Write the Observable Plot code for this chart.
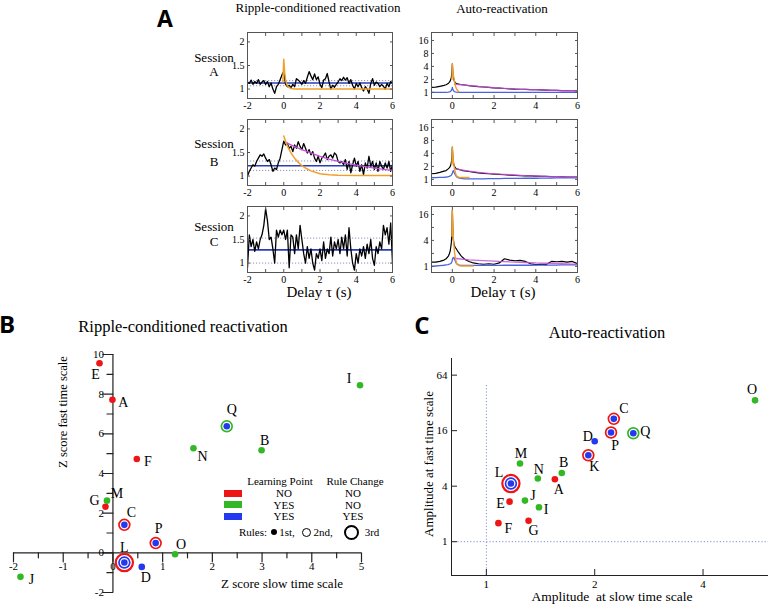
<!DOCTYPE html>
<html><head><meta charset="utf-8">
<script src="https://cdn.jsdelivr.net/npm/d3@7"></script>
<script src="https://cdn.jsdelivr.net/npm/@observablehq/plot@0.6"></script>
<style>
body{margin:0;background:#fff;}
#fig{position:relative;width:768px;height:604px;overflow:hidden;background:#fff;font-family:"Liberation Serif","DejaVu Serif",serif;color:#000;}
#fig svg{position:absolute;background:transparent;}
.lbl{position:absolute;white-space:pre;line-height:1;transform:translate(-50%,-50%);}
</style></head><body><div id="fig"></div>
<script>
// ---------- Panel A data ----------
// ripple-conditioned reactivation, sampled every 0.1 s from -2 to 6 s
const rippleA = [1.15,1.12,1.19,1.10,1.16,1.12,1.20,1.10,1.15,1.18,
 1.10,1.16,1.05,1.13,1.00,0.91,1.05,1.10,1.20,1.30,
 1.37,1.10,1.05,1.08,1.03,1.10,1.05,1.22,1.19,1.15,
 1.10,1.18,1.12,1.25,1.37,1.28,1.20,1.32,1.20,1.26,
 1.10,1.03,1.19,1.22,1.33,1.15,1.00,1.08,1.04,1.10,
 1.15,1.22,1.18,1.25,1.19,1.24,1.12,1.20,1.08,1.00,
 1.12,1.05,1.13,1.03,0.96,1.05,1.00,0.91,1.12,1.22,
 1.08,1.15,1.12,1.05,1.10,1.06,1.00,1.12,1.05,1.16,1.12];
const rippleB = [1.00,1.10,1.17,1.24,1.21,1.31,1.38,1.45,1.42,1.47,
 1.38,1.31,1.35,1.24,1.10,1.17,1.14,1.28,1.38,1.56,
 1.74,1.66,1.69,1.59,1.63,1.52,1.66,1.59,1.73,1.63,
 1.56,1.69,1.59,1.49,1.56,1.45,1.52,1.38,1.31,1.42,
 1.28,1.38,1.42,1.49,1.35,1.42,1.45,1.38,1.49,1.45,
 1.31,1.28,1.31,1.24,1.35,1.14,1.31,1.07,1.24,1.38,
 1.21,1.31,1.10,1.24,1.03,1.28,1.17,1.42,1.21,1.31,
 1.14,1.28,1.10,1.31,1.21,1.14,1.28,1.17,1.31,1.10,1.24];
const rippleC = [0.90,1.60,1.35,1.50,1.25,1.45,1.30,1.50,1.60,1.80,
 2.15,1.90,1.50,1.55,1.30,1.00,1.70,1.55,1.70,1.60,
 1.70,1.50,1.70,0.90,1.60,1.55,1.20,1.60,1.30,1.80,
 1.50,1.20,1.00,1.35,1.10,1.30,1.00,0.85,1.20,1.10,
 1.30,1.05,1.45,1.10,1.30,1.20,1.55,1.15,1.45,1.30,
 1.50,1.20,1.55,1.30,1.60,1.15,1.75,1.30,1.00,0.85,
 1.20,1.00,1.30,1.15,1.35,1.10,1.40,1.20,1.50,1.10,
 0.95,1.35,1.20,1.45,1.30,1.80,1.60,1.75,1.40,1.85,1.00];
const rippleTime = rippleA.map((_, i) => -2 + i * 0.1);
const rippleLevel = [1.13, 1.22, 1.28];
const rippleBand = [[1.07, 1.18], [1.12, 1.32], [1.00, 1.53]];
const fastFitTimeA = [-0.05,0,0.05,0.1,0.15,0.2,0.3,0.4,0.6,1,2,3,4,5,6];
const fastFitA = [1.15,1.63,1.35,1.20,1.12,1.07,1.03,1.01,1.00,1.00,1.00,1.00,1.00,1.00,1.00];
const fastFitTimeB = [0,0.1,0.2,0.3,0.4,0.6,0.8,1,1.25,1.5,2,2.5,3,4,5,6];
const fastFitB = [1.85,1.74,1.64,1.56,1.49,1.38,1.29,1.22,1.16,1.11,1.05,1.03,1.02,1.01,1.01,1.01];
const slowFitTimeB = [0.1,0.5,1,1.5,2,2.5,3,3.5,4,4.5,5,5.5,6];
const slowFitB = [1.72,1.64,1.56,1.49,1.42,1.36,1.31,1.27,1.23,1.20,1.17,1.14,1.12];

// auto-reactivation (log scale)
const autoTime = [-1,-0.8,-0.6,-0.4,-0.3,-0.2,-0.15,-0.1,-0.05,-0.02,
 0,0.02,0.05,0.1,0.15,0.2,0.3,0.4,0.5,0.6,
 0.8,1,1.25,1.5,1.75,2,2.25,2.5,2.75,3,
 3.25,3.5,3.75,4,4.25,4.5,4.75,5,5.25,5.5,5.75,6];
const autoA = [1.30,1.32,1.38,1.45,1.50,1.60,1.70,1.85,2.20,3.00,
 4.60,3.00,2.20,1.80,1.65,1.60,1.55,1.52,1.50,1.48,
 1.44,1.40,1.36,1.33,1.30,1.27,1.25,1.23,1.21,1.19,
 1.18,1.17,1.16,1.15,1.14,1.13,1.12,1.11,1.10,1.10,1.09,1.08];
const autoB = [1.35,1.38,1.45,1.55,1.60,1.75,1.85,2.00,2.40,3.30,
 5.60,3.50,2.40,2.00,1.85,1.75,1.70,1.65,1.60,1.57,
 1.52,1.47,1.42,1.38,1.35,1.32,1.30,1.28,1.26,1.24,
 1.22,1.21,1.20,1.19,1.18,1.17,1.16,1.15,1.14,1.13,1.13,1.12];
const autoC = [1.25,1.25,1.30,1.40,1.50,1.70,1.90,2.30,3.50,6.00,
 20.0,8.00,4.00,3.00,2.70,2.50,2.10,1.80,1.60,1.45,
 1.30,1.20,1.15,1.12,1.15,1.12,1.20,1.50,1.40,1.35,
 1.38,1.30,1.15,1.10,1.12,1.10,1.30,1.28,1.30,1.25,1.30,1.15];
const crossA = [1.00,1.00,1.00,1.00,1.00,1.01,1.02,1.04,1.10,1.20,
 1.30,1.20,1.10,1.04,1.02,1.01,1.00,1.00,1.00,1.00,
 1.00,1.00,1.00,1.00,1.00,1.00,1.00,1.00,1.00,1.00,
 1.00,1.00,1.00,1.00,1.00,1.00,1.00,1.00,1.00,1.00,1.00,1.00];
const crossB = [1.10,1.10,1.11,1.12,1.13,1.15,1.17,1.20,1.25,1.32,
 1.40,1.50,1.60,1.40,1.25,1.15,1.08,1.05,1.04,1.03,
 1.03,1.03,1.03,1.03,1.04,1.04,1.04,1.05,1.05,1.05,
 1.05,1.06,1.06,1.06,1.07,1.07,1.07,1.08,1.08,1.08,1.09,1.09];
const crossC = [1.00,1.02,1.04,1.06,1.08,1.10,1.12,1.15,1.20,1.30,
 1.40,1.55,1.60,1.50,1.30,1.15,1.08,1.05,1.05,1.05,
 1.05,1.05,1.05,1.05,1.05,1.05,1.05,1.06,1.06,1.06,
 1.06,1.06,1.06,1.07,1.07,1.07,1.07,1.07,1.08,1.08,1.08,1.08];
const slowAutoA = [null,null,null,null,null,null,null,null,null,null,null,null,null,
 1.55,1.54,1.53,1.52,1.50,1.48,1.47,1.44,1.41,1.37,1.34,1.31,1.28,1.26,1.24,1.22,1.20,
 1.18,1.17,1.16,1.15,1.14,1.13,1.12,1.11,1.10,1.09,1.09,1.08];
const slowAutoB = [null,null,null,null,null,null,null,null,null,null,null,null,null,
 1.75,1.74,1.72,1.70,1.67,1.64,1.61,1.56,1.51,1.46,1.42,1.38,1.35,1.32,1.30,1.28,1.26,
 1.24,1.22,1.21,1.20,1.19,1.17,1.16,1.15,1.14,1.13,1.13,1.12];
const slowAutoC = [null,null,null,null,null,null,null,null,null,null,null,null,null,
 1.60,1.55,1.52,1.50,1.48,1.46,1.45,1.42,1.40,1.38,1.36,1.34,1.32,1.30,1.29,1.27,1.26,
 1.24,1.23,1.22,1.20,1.19,1.18,1.17,1.16,1.15,1.14,1.13,1.12];
const fastAutoA = [null,null,null,null,null,null,null,null,null,2.00,
 4.60,3.40,2.50,1.80,1.40,1.20,1.05,null,null,null,
 null,null,null,null,null,null,null,null,null,null,
 null,null,null,null,null,null,null,null,null,null,null,null];
const fastAutoB = [null,null,null,null,null,null,null,null,null,2.20,
 5.60,3.80,2.60,1.80,1.40,1.20,1.12,1.10,1.10,1.10,
 1.10,null,null,null,null,null,null,null,null,null,
 null,null,null,null,null,null,null,null,null,null,null,null];
const fastAutoC = [null,null,null,null,null,null,null,null,null,5.00,
 20.0,10.0,4.50,2.20,1.50,1.20,1.05,1.02,1.02,1.02,
 1.02,1.02,null,null,null,null,null,null,null,null,
 null,null,null,null,null,null,null,null,null,null,null,null];

const rippleXTicks = [-2,-1,0,1,2,3,4,5,6];
const rippleXLabels = [-2,0,2,4,6];
const rippleYTicks = [1,1.5,2];
const rippleYLabels = [1,1.5,2];
const autoXTicks = [0,1,2,3,4,5,6];
const autoXLabels = [0,2,4,6];
const autoYTicks = [1,2,4,8,16];
const autoYLabels = [[1,2,4,8,16],[1,2,4,8,16],[1,4,16]];

// ---------- Panels B & C data ----------
const sessions      = ["A","B","C","D","E","F","G","I","J","K","L","M","N","O","P","Q"];
const learningPoint = ["NO","YES","YES","YES","NO","NO","NO","YES","YES","YES","YES","YES","YES","YES","YES","YES"];
const ruleChange    = ["NO","NO","YES","YES","NO","NO","NO","NO","NO","YES","YES","NO","NO","NO","YES","YES"];
const ringInner     = [null,null,"NO/NO",null,null,null,null,null,null,"NO/NO","YES/YES",null,null,null,"NO/NO","YES/NO"];
const ringOuter     = [null,null,null,null,null,null,null,null,null,null,"NO/NO",null,null,null,null,null];
const zSlow = [-0.01,2.99,0.23,0.58,-0.27,0.48,-0.15,4.97,-1.86,null,0.23,-0.12,1.62,1.25,0.86,2.29];
const zFast = [7.72,5.17,1.41,-0.71,9.56,4.73,2.32,8.45,-1.21,null,-0.49,2.63,5.27,-0.07,0.49,6.38];
const ampSlow = [1.55,1.62,2.26,2.00,1.16,1.08,1.31,1.40,1.28,1.92,1.17,1.24,1.39,5.58,2.22,2.56];
const ampFast = [4.75,5.57,21.5,12.3,2.72,1.59,1.69,2.36,2.79,8.66,4.27,7.04,4.84,34.1,15.3,15.0];

const zXMajor = [-2,-1,0,1,2,3,4,5];
const zXMinor = [-1.5,-0.5,0.5,1.5,2.5,3.5,4.5];
const zYMajor = [-2,0,2,4,6,8,10];
const zYMinor = [-1,1,3,5,7,9];
const zXLabels = [-2,-1,0,1,2,3,4,5];
const zYLabels = [-2,0,2,4,6,8,10];
const ampXTicks = [1,2,4];
const ampYTicks = [1,4,16,64];

// ---------- styles ----------
const SERIF = "Liberation Serif, DejaVu Serif, serif";
const groupColor = {"NO/NO":"#ee1515","YES/NO":"#33b825","YES/YES":"#2438ee"};
const groupOf = sessions.map((s,i) => learningPoint[i] + "/" + ruleChange[i]);
const labelOffB = {E:[-4,11],A:[11,3],F:[11,2],M:[10,-7],G:[-11,-6],C:[7,-12],P:[3,-15],O:[6,-10],L:[0,-15],D:[4,11],J:[11,3],N:[9,8],Q:[5,-17],B:[3,-10],I:[-11,-7]};
const labelOffC = {O:[-3,-11],C:[10,-10],P:[4,13],Q:[12,-2],D:[-7,-5],K:[6,11],M:[1,-10],B:[2,-10],N:[1,-9],A:[4,10],L:[-12,-11],E:[-9,2],J:[8,-5],I:[7,2],F:[10,5],G:[5,10]};

const fig = document.getElementById("fig");
function place(el, left, top){ el.style.position="absolute"; el.style.left=left+"px"; el.style.top=top+"px"; fig.appendChild(el); return el; }
function text(t, x, y, size, extra){ const d=document.createElement("div"); d.className="lbl"; d.textContent=t; d.style.left=x+"px"; d.style.top=y+"px"; d.style.fontSize=size+"px"; if(extra) Object.assign(d.style, extra); fig.appendChild(d); return d; }

const pairs = (t, v) => v.map((y, i) => [t[i], y]);

function tracePlot({left, top, frameW, xDomain, xTicks, xLabels, yType, yDomain, yTicks, yLabels, marks}) {
  const mL=30, mR=8, mT=6, mB=16, H=66;
  const p = Plot.plot({
    width: mL+frameW+mR, height: mT+H+mB,
    marginLeft: mL, marginRight: mR, marginTop: mT, marginBottom: mB,
    style: {background:"transparent", fontFamily: SERIF, fontSize:"10px", color:"#000"},
    x: {domain: xDomain},
    y: yType === "log" ? {type:"log", base:2, domain:yDomain} : {domain:yDomain},
    marks: [
      ...marks,
      Plot.frame({stroke:"#555"}),
      Plot.axisX(xTicks, {anchor:"bottom", tickSize:-3, fill:"none", stroke:"#555", label:null}),
      Plot.axisX(xTicks, {anchor:"top", tickSize:-3, fill:"none", stroke:"#555", label:null}),
      Plot.axisY(yTicks, {anchor:"left", tickSize:-3, fill:"none", stroke:"#555", label:null}),
      Plot.axisY(yTicks, {anchor:"right", tickSize:-3, fill:"none", stroke:"#555", label:null}),
      Plot.axisX(xLabels, {anchor:"bottom", tickSize:0, tickPadding:3, label:null, tickFormat:d=>String(d)}),
      Plot.axisY(yLabels, {anchor:"left", tickSize:0, tickPadding:3, label:null, tickFormat:d=>String(d)})
    ]
  });
  place(p, left-mL, top-mT);
}

const ORANGE="#f0a02a", MAGENTA="#c84fd8", BLUE="#2a3cb8", LBLUE="#4a62e0", DOT="#8a94b8";
const rippleSeries = [rippleA, rippleB, rippleC];
const rowTop = [32, 119, 206];
rippleSeries.forEach((vals, r) => {
  const marks = [
    Plot.ruleY(rippleBand[r], {stroke:DOT, strokeDasharray:"1.2,1.8", strokeWidth:1}),
    Plot.ruleY([rippleLevel[r]], {stroke:BLUE, strokeWidth:1.6}),
    Plot.line(pairs(rippleTime, vals), {stroke:"#000", strokeWidth:1.3, clip:true})
  ];
  if (r === 0) marks.push(Plot.line(pairs(fastFitTimeA, fastFitA), {stroke:ORANGE, strokeWidth:1.5, clip:true}));
  if (r === 1) {
    marks.push(Plot.line(pairs(slowFitTimeB, slowFitB), {stroke:MAGENTA, strokeWidth:1.3}));
    marks.push(Plot.line(pairs(fastFitTimeB, fastFitB), {stroke:ORANGE, strokeWidth:1.5}));
  }
  tracePlot({left:247, top:rowTop[r], frameW:145, xDomain:[-2,6], xTicks:rippleXTicks, xLabels:rippleXLabels,
    yType:"linear", yDomain:[0.8,2.2], yTicks:rippleYTicks, yLabels:rippleYLabels, marks});
});

const autoSeries = [autoA, autoB, autoC], crossSeries=[crossA,crossB,crossC];
const slowAuto=[slowAutoA,slowAutoB,slowAutoC], fastAuto=[fastAutoA,fastAutoB,fastAutoC];
autoSeries.forEach((vals, r) => {
  const marks = [
    Plot.line(pairs(autoTime, vals), {stroke:"#000", strokeWidth:1.2, clip:true}),
    Plot.line(pairs(autoTime, crossSeries[r]), {stroke:LBLUE, strokeWidth:1.3, clip:true}),
    Plot.line(pairs(autoTime, slowAuto[r]), {stroke:MAGENTA, strokeWidth:1.3, strokeOpacity:0.85, clip:true}),
    Plot.line(pairs(autoTime, fastAuto[r]), {stroke:ORANGE, strokeWidth:1.4, clip:true})
  ];
  tracePlot({left:431, top:rowTop[r], frameW:146, xDomain:[-1,6], xTicks:autoXTicks, xLabels:autoXLabels,
    yType:"log", yDomain:[0.72,24.5], yTicks:autoYTicks, yLabels:autoYLabels[r], marks});
});

// ---------- scatter helpers ----------
function scatterMarks(xs, ys, offs) {
  const idx = sessions.map((s,i)=>i).filter(i => xs[i] != null);
  const X = i => xs[i], Y = i => ys[i];
  return [
    Plot.dot(idx.filter(i=>ringOuter[i]), {x:X, y:Y, r:8.6, fill:"white", stroke:i=>groupColor[ringOuter[i]], strokeWidth:2.2}),
    Plot.dot(idx.filter(i=>ringInner[i]), {x:X, y:Y, r:5.4, fill:"white", stroke:i=>groupColor[ringInner[i]], strokeWidth:1.7}),
    Plot.dot(idx, {x:X, y:Y, r:3.3, fill:i=>groupColor[groupOf[i]]}),
    ...idx.map(i => Plot.text([i], {x:X, y:Y, text:i=>sessions[i], dx:offs[sessions[i]][0], dy:offs[sessions[i]][1], fontSize:14, fill:"#000"}))
  ];
}
const tickShape = {draw(ctx, l){ ctx.moveTo(0,-l/2); ctx.lineTo(0,l/2); }};

// ---------- Panel B ----------
const plotB = Plot.plot({
  width:380, height:264, marginLeft:13, marginRight:19, marginTop:14, marginBottom:12,
  style:{background:"transparent", fontFamily:SERIF, fontSize:"11px", color:"#000"},
  x:{domain:[-2,5], axis:null}, y:{domain:[-2,10], axis:null}, color:{type:"identity"},
  marks:[
    Plot.ruleY([0], {stroke:"#222", strokeWidth:1.2}),
    Plot.ruleX([0], {stroke:"#222", strokeWidth:1.2}),
    Plot.vector(zXMajor, {x:d=>d, y:()=>0, length:9, rotate:0, shape:tickShape, stroke:"#222", strokeWidth:1.2}),
    Plot.vector(zXMinor, {x:d=>d, y:()=>0, length:5, rotate:0, shape:tickShape, stroke:"#222", strokeWidth:1.2}),
    Plot.vector(zYMajor, {x:()=>0, y:d=>d, length:10, rotate:90, shape:tickShape, stroke:"#222", strokeWidth:1.2}),
    Plot.vector(zYMinor, {x:()=>0, y:d=>d, length:6, rotate:90, shape:tickShape, stroke:"#222", strokeWidth:1.2}),
    Plot.text(zXLabels, {x:d=>d, y:()=>0, text:d=>String(d), dy:14, fontSize:11}),
    Plot.text(zYLabels, {x:()=>0, y:d=>d, text:d=>String(d), dx:-9, textAnchor:"end", fontSize:11}),
    ...scatterMarks(zSlow, zFast, labelOffB)
  ]
});
place(plotB, 0, 340);

// ---------- Panel C ----------
const plotC = Plot.plot({
  width:390, height:264, marginLeft:51, marginRight:0, marginTop:18, marginBottom:29,
  style:{background:"transparent", fontFamily:SERIF, fontSize:"11px", color:"#000"},
  x:{type:"log", base:2, domain:[0.8,7]}, y:{type:"log", base:2, domain:[0.43,97]}, color:{type:"identity"},
  marks:[
    Plot.ruleY([1], {stroke:"#8090d8", strokeDasharray:"1.2,2"}),
    Plot.ruleX([1], {stroke:"#8090d8", strokeDasharray:"1.2,2", insetTop:27}),
    Plot.frame({anchor:"left", stroke:"#222"}),
    Plot.frame({anchor:"bottom", stroke:"#222"}),
    Plot.axisX(ampXTicks, {anchor:"bottom", tickSize:-6, fill:"none", stroke:"#222", label:null}),
    Plot.axisY(ampYTicks, {anchor:"left", tickSize:-6, fill:"none", stroke:"#222", label:null}),
    Plot.axisX(ampXTicks, {anchor:"bottom", tickSize:0, tickPadding:5, label:null, tickFormat:d=>String(d)}),
    Plot.axisY(ampYTicks, {anchor:"left", tickSize:0, tickPadding:4, label:null, tickFormat:d=>String(d)}),
    ...scatterMarks(ampSlow, ampFast, labelOffC)
  ]
});
place(plotC, 400, 340);

// ---------- texts ----------
const SANS = {fontFamily:"Open Sans, DejaVu Sans, sans-serif", fontWeight:"700"};
text("A", 165, 18, 23, SANS);
text("Ripple-conditioned reactivation", 318, 7, 13);
text("Auto-reactivation", 502, 8, 13);
[["A",57,71],["B",143,161],["C",226,241]].forEach(([s,y1,y2])=>{ text("Session",214,y1,13); text(s,214,y2,13); });
text("Delay \u03c4 (s)", 319, 292, 15);
text("Delay \u03c4 (s)", 503, 292, 15);

text("B", 7, 324, 24, SANS);
text("Ripple-conditioned reactivation", 183, 327, 16.5);
text("Z score fast time scale", 63, 412, 12.5, {transform:"translate(-50%,-50%) rotate(-90deg)"});
text("Z score slow time scale", 282, 583, 13);

text("C", 422, 325, 24, SANS);
text("Auto-reactivation", 607, 333, 16.5);
text("Amplitude at fast time scale", 428, 464, 13, {transform:"translate(-50%,-50%) rotate(-90deg)"});
text("Amplitude  at slow time scale", 612, 597, 13.5);

// ---------- legend (panel B) ----------
const LF = 11;
text("Learning Point", 280, 481, LF);
text("Rule Change", 355, 481, LF);
const legendRows = [["NO/NO",493],["YES/NO",504.5],["YES/YES",516]];
legendRows.forEach(([g,y])=>{
  const sw=document.createElement("div");
  Object.assign(sw.style,{width:"18px",height:"7px",background:groupColor[g]});
  place(sw, 224, y-3.5);
  const [lp, rc] = g.split("/");
  text(lp, 284, y, LF); text(rc, 353, y, LF);
});
text("Rules:", 253, 532, LF);
const dotEl=document.createElement("div");
Object.assign(dotEl.style,{width:"6px",height:"6px",borderRadius:"50%",background:"#000"});
place(dotEl, 271, 529);
text("1st,", 287, 532, LF);
const ring1=document.createElement("div");
Object.assign(ring1.style,{width:"7px",height:"7px",borderRadius:"50%",border:"1.6px solid #000",boxSizing:"content-box"});
place(ring1, 302, 527.5);
text("2nd,", 323, 532, LF);
const ring2=document.createElement("div");
Object.assign(ring2.style,{width:"11px",height:"11px",borderRadius:"50%",border:"2.6px solid #000",boxSizing:"content-box"});
place(ring2, 344, 524.5);
text("3rd", 372, 532, LF);
</script></body></html>
